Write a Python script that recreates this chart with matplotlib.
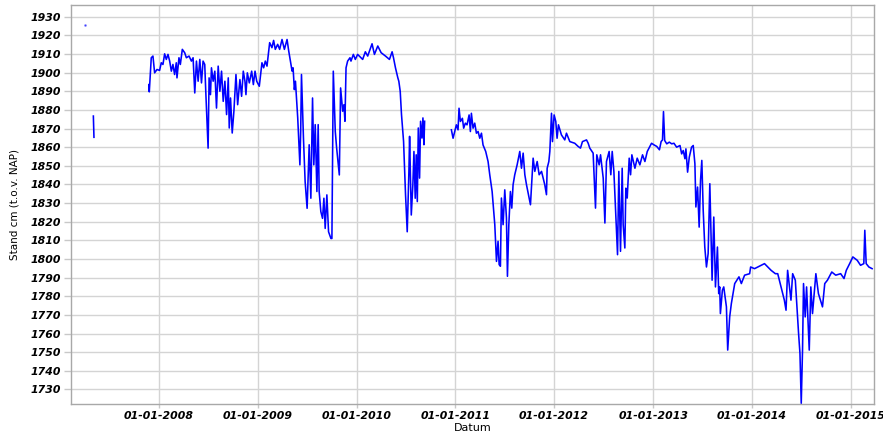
import numpy as np
import pandas as pd
import matplotlib
matplotlib.use("Agg")
import matplotlib.pyplot as plt
import matplotlib.dates as mdates

# water level readings (decimal year, cm t.o.v. NAP)
# NaN marks a gap in the record
years = [
    2007.336, 2007.342, np.nan,
    2007.898, 2007.902, 2007.922, 2007.939, 2007.956, 2007.980, 2008.007, 2008.024,
    2008.041, 2008.058, 2008.075, 2008.092, 2008.109, 2008.126, 2008.142, 2008.159,
    2008.176, 2008.183, 2008.203, 2008.217, 2008.237, 2008.261, 2008.278, 2008.305,
    2008.329, 2008.346, 2008.363, 2008.380, 2008.397, 2008.414, 2008.431, 2008.447,
    2008.464, 2008.475, 2008.498, 2008.508, 2008.522, 2008.532, 2008.549, 2008.566,
    2008.583, 2008.600, 2008.617, 2008.634, 2008.651, 2008.668, 2008.685, 2008.702,
    2008.712, 2008.725, 2008.742, 2008.759, 2008.780, 2008.797, 2008.820, 2008.837,
    2008.854, 2008.871, 2008.881, 2008.895, 2008.915, 2008.939, 2008.956, 2008.973,
    2008.990, 2009.014, 2009.041, 2009.058, 2009.075, 2009.092, 2009.119, 2009.142,
    2009.159, 2009.176, 2009.200, 2009.220, 2009.244, 2009.268, 2009.295, 2009.312,
    2009.329, 2009.346, 2009.356, 2009.369, 2009.380, 2009.403, 2009.425,
    2009.433, 2009.441, 2009.451, 2009.461, 2009.478, 2009.498, 2009.519, 2009.536,
    2009.553, 2009.566, 2009.580, 2009.597, 2009.610, 2009.620, 2009.637, 2009.654,
    2009.668, 2009.681, 2009.698, 2009.715, 2009.739, 2009.749, 2009.763, 2009.783,
    2009.797, 2009.824, 2009.837, 2009.858, 2009.871, 2009.881, 2009.892, 2009.908,
    2009.932, 2009.942, 2009.966, 2009.986, 2010.010, 2010.044, 2010.061, 2010.088,
    2010.112, 2010.156, 2010.180, 2010.214, 2010.248, 2010.292, 2010.332, 2010.359,
    2010.373, 2010.393,
    2010.417, 2010.427, 2010.441, 2010.454, 2010.475, 2010.495, 2010.512, 2010.529,
    2010.536, 2010.553, 2010.569, 2010.580, 2010.593, 2010.603, 2010.614, 2010.624,
    2010.637, 2010.647, 2010.661, 2010.671, 2010.681, 2010.688, np.nan,
    2010.959, 2010.976, 2010.993, 2011.010, 2011.027, 2011.037, 2011.051, 2011.071,
    2011.084, 2011.101, 2011.118, 2011.139, 2011.152, 2011.162, 2011.179, 2011.196,
    2011.213, 2011.230, 2011.247, 2011.264, 2011.280, 2011.307, 2011.331, 2011.348,
    2011.372, 2011.399, 2011.416, 2011.432, 2011.443, 2011.456, 2011.466, 2011.483,
    2011.500, 2011.517, 2011.527, 2011.541, 2011.557, 2011.571, 2011.584, 2011.601,
    2011.625, 2011.652, 2011.669, 2011.686, 2011.703, 2011.720, 2011.760, 2011.787,
    2011.804, 2011.828, 2011.848, 2011.872, 2011.905, 2011.922, 2011.929, 2011.946,
    2011.956, 2011.973, 2011.983, 2012.000, 2012.017, 2012.030, 2012.044, 2012.074,
    2012.108, 2012.125, 2012.159, 2012.209, 2012.243, 2012.267, 2012.287, 2012.328,
    2012.345, 2012.361, 2012.395, 2012.419, 2012.432, 2012.456, 2012.470, 2012.497,
    2012.514, 2012.530, 2012.557, 2012.574, 2012.588, 2012.605, 2012.642, 2012.655,
    2012.672, 2012.689, 2012.699, 2012.716, 2012.726, 2012.740, 2012.760, 2012.774,
    2012.787, 2012.818, 2012.841, 2012.868, 2012.895, 2012.919, 2012.943, 2012.986,
    2013.010, 2013.037, 2013.064, 2013.081, 2013.095, 2013.105, 2013.117, 2013.138,
    2013.164, 2013.188, 2013.211, 2013.238, 2013.272, 2013.289, 2013.305, 2013.322,
    2013.332, 2013.349, 2013.366, 2013.389, 2013.406, 2013.423, 2013.433, 2013.450,
    2013.466, 2013.480, 2013.493, 2013.507, 2013.523, 2013.540, 2013.557, 2013.574,
    2013.597, 2013.614, 2013.631, 2013.651, 2013.664, 2013.674, 2013.681, 2013.701,
    2013.715, 2013.742, 2013.755, 2013.775, 2013.792, 2013.826, 2013.869, 2013.893,
    2013.926, 2013.977, 2013.987, 2014.027, 2014.060, 2014.128, 2014.161, 2014.195,
    2014.238, 2014.262, 2014.295, 2014.329, 2014.346, 2014.362, 2014.396, 2014.413,
    2014.440, 2014.473, 2014.487, 2014.500, 2014.513, 2014.523, 2014.540, 2014.554,
    2014.581, 2014.597, 2014.614, 2014.648, 2014.674, 2014.715, 2014.738, 2014.765,
    2014.809, 2014.849, 2014.899, 2014.933, 2014.956, 2014.990, 2015.023, 2015.067,
    2015.101, 2015.134, 2015.144, 2015.158, 2015.185, 2015.218,
]
levels = [
    1876.7, 1865.3, np.nan,
    1893.6, 1889.7, 1908.0, 1908.9, 1899.9, 1901.7, 1901.2, 1905.3,
    1904.4, 1910.1, 1907.1, 1909.8, 1906.2, 1900.8, 1904.4, 1899.0,
    1905.3, 1897.2, 1908.0, 1904.4, 1912.5, 1910.7, 1908.0, 1908.9,
    1906.2, 1908.0, 1889.1, 1906.2, 1895.4, 1907.1, 1894.5, 1906.2,
    1904.4, 1889.1, 1859.5, 1897.2, 1888.2, 1902.6, 1895.4, 1900.8,
    1881.0, 1903.5, 1890.0, 1900.8, 1884.6, 1895.4, 1877.5, 1897.2,
    1870.3, 1886.4, 1867.6, 1879.3, 1899.0, 1882.8, 1896.3, 1887.3,
    1900.8, 1895.4, 1888.2, 1899.9, 1894.5, 1900.8, 1893.6, 1900.8,
    1895.4, 1892.7, 1905.3, 1902.6, 1906.2, 1903.5, 1916.1, 1913.4,
    1917.3, 1912.5, 1915.2, 1912.5, 1917.8, 1912.5, 1917.8, 1911.6,
    1906.2, 1900.8, 1902.6, 1890.9, 1895.4, 1875.7, 1850.5,
    1868.5, 1899.0, 1882.8, 1864.9, 1841.5, 1827.2, 1861.3, 1832.6,
    1886.4, 1850.5, 1872.1, 1836.2, 1872.1, 1836.2, 1825.4, 1821.8,
    1832.6, 1816.4, 1834.4, 1814.6, 1811.0, 1811.0, 1900.8, 1868.5,
    1859.5, 1845.1, 1891.8, 1879.3, 1882.8, 1873.9, 1902.6, 1906.2,
    1908.0, 1906.2, 1909.8, 1907.1, 1909.8, 1908.0, 1907.1, 1911.2,
    1908.9, 1915.5, 1909.8, 1914.3, 1910.7, 1908.9, 1907.1, 1911.2,
    1908.0, 1902.6,
    1897.2, 1895.4, 1890.0, 1877.5, 1863.1, 1834.4, 1814.6, 1846.9,
    1865.8, 1823.6, 1839.8, 1857.7, 1832.6, 1855.9, 1830.8, 1870.3,
    1843.4, 1873.9, 1864.9, 1875.7, 1861.3, 1873.9, np.nan,
    1869.3, 1864.8, 1868.4, 1872.0, 1869.3, 1880.9, 1873.8, 1875.5,
    1870.2, 1872.9, 1872.0, 1877.3, 1868.4, 1878.2, 1870.2, 1872.9,
    1867.5, 1868.4, 1864.8, 1867.5, 1861.2, 1857.7, 1852.3, 1845.2,
    1836.2, 1818.4, 1798.7, 1809.5, 1797.0, 1796.1, 1832.7, 1818.4,
    1837.1, 1822.0, 1790.7, 1818.4, 1836.2, 1827.3, 1839.8, 1845.2,
    1850.5, 1857.7, 1848.7, 1856.8, 1845.2, 1839.8, 1829.1, 1854.1,
    1847.0, 1852.3, 1845.2, 1847.0, 1839.8, 1834.5, 1848.7, 1852.3,
    1857.7, 1878.2, 1863.0, 1877.3, 1873.8, 1864.8, 1872.0, 1866.6,
    1863.9, 1867.5, 1863.0, 1862.1, 1860.4, 1859.5, 1863.0, 1863.9,
    1862.1, 1859.5, 1856.8, 1827.3, 1855.9, 1850.5, 1855.9, 1843.4,
    1819.3, 1852.3, 1857.7, 1845.2, 1857.7, 1847.0, 1802.3, 1847.0,
    1804.1, 1848.7, 1818.4, 1805.9, 1838.0, 1832.7, 1854.1, 1845.2,
    1855.9, 1848.7, 1854.1, 1850.5, 1855.9, 1852.3, 1857.7, 1862.1,
    1861.2, 1860.4, 1858.6, 1863.0, 1863.9, 1879.1, 1863.6, 1861.8,
    1862.7, 1861.8, 1862.1, 1860.0, 1860.9, 1856.4, 1858.2, 1853.8,
    1859.1, 1846.6, 1854.6, 1860.0, 1860.9, 1851.1, 1827.9, 1838.6,
    1817.1, 1842.1, 1852.9, 1826.1, 1806.4, 1795.7, 1802.9, 1840.4,
    1788.6, 1822.5, 1785.0, 1806.4, 1781.4, 1785.0, 1770.7, 1783.2,
    1785.0, 1774.3, 1751.1, 1768.9, 1776.1, 1786.8, 1790.4, 1786.8,
    1791.3, 1792.1, 1795.7, 1794.8, 1795.7, 1797.5, 1795.7, 1793.9,
    1792.1, 1792.1, 1785.0, 1777.9, 1772.5, 1793.9, 1777.9, 1792.1,
    1788.6, 1760.0, 1749.3, 1722.5, 1751.1, 1786.8, 1768.9, 1785.0,
    1751.1, 1785.0, 1770.7, 1792.1, 1781.4, 1774.3, 1786.8, 1788.6,
    1793.0, 1791.3, 1792.1, 1789.5, 1793.9, 1797.5, 1801.1, 1799.3,
    1796.6, 1797.5, 1815.4, 1797.5, 1795.7, 1794.8,
]

# single stray reading in early 2007
dot_year = [2007.248]
dot_level = [1925.5]

y_ticks = list(range(1730, 1931, 10))
x_tick_years = list(range(2008, 2016))


def to_dates(yrs):
    out = []
    for y in yrs:
        if np.isnan(y):
            out.append(pd.NaT)
        else:
            start = pd.Timestamp(int(y), 1, 1)
            out.append(start + pd.Timedelta(days=(y - int(y)) * 365.25))
    return pd.to_datetime(out)


dates = to_dates(years)
dot_dates = to_dates(dot_year)

fig = plt.figure(figsize=(8.83, 4.36), dpi=100)
ax = fig.add_axes([0.080, 0.0727, 0.9098, 0.9158])

ax.plot(dates, levels, color="#0000ff", lw=1.15)
ax.plot(dot_dates, dot_level, color="#0000ff", marker="o", markersize=0.9,
        lw=0, alpha=0.5)

ax.set_xlim(to_dates([2007.106])[0], to_dates([2015.237])[0])
ax.set_ylim(1722, 1936.3)

ax.set_yticks(y_ticks)
ax.set_xticks([pd.Timestamp(y, 1, 1) for y in x_tick_years])
ax.xaxis.set_major_formatter(mdates.DateFormatter("%d-%m-%Y"))

ax.grid(True, color="#d4d4d4", lw=1.0)
ax.set_axisbelow(True)
for s in ax.spines.values():
    s.set_color("#a8a8a8")
    s.set_linewidth(1.0)

ax.tick_params(axis="y", length=5, width=1, color="#c8c8c8", pad=2)
ax.tick_params(axis="x", length=3, width=1, color="#c8c8c8", pad=2)
for lab in ax.get_xticklabels() + ax.get_yticklabels():
    lab.set_fontweight("bold")
    lab.set_fontstyle("italic")
    lab.set_fontsize(7.8)

ax.set_xlabel("Datum", fontsize=8, labelpad=1)
ax.set_ylabel("Stand cm (t.o.v. NAP)", fontsize=7.5, labelpad=8)

fig.savefig("out.png", dpi=100)
